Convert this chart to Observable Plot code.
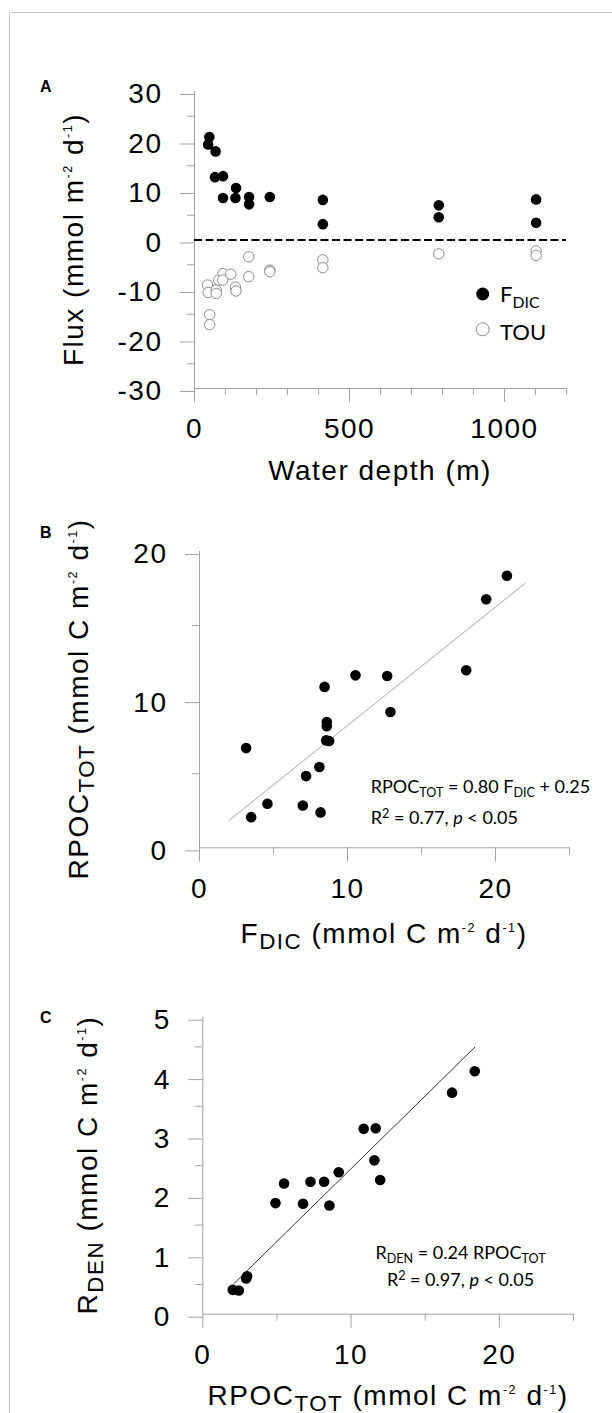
<!DOCTYPE html>
<html>
<head>
<meta charset="utf-8">
<script src="https://cdn.jsdelivr.net/npm/d3@7"></script>
<script src="https://cdn.jsdelivr.net/npm/@observablehq/plot@0.6"></script>
<style>
  html, body { margin: 0; padding: 0; background: white; }
  #fig { position: relative; width: 612px; height: 1413px; overflow: hidden; background: white; }
  .panel { position: absolute; left: 0; }
  #border { position: absolute; left: 9px; top: 12px; width: 800px; height: 1600px;
            border-left: 1px solid #c8c8c8; border-top: 1px solid #c8c8c8; pointer-events: none; }
  text { white-space: pre; }
</style>
</head>
<body>
<div id="fig"><div id="border"></div></div>
<script>
// ---------- DATA ----------
// Panel A: fluxes vs water depth
const depthDIC = [48, 44, 68, 66, 92, 92, 134, 132, 176, 176, 243, 414, 414, 788, 788, 1102, 1102];
const fluxDIC  = [20.8, 19.3, 17.9, 12.7, 12.9, 8.5, 10.5, 8.5, 8.7, 7.2, 8.7, 8.1, 3.2, 7.0, 4.6, 8.2, 3.5];
const depthTOU = [175, 42, 44, 70, 70, 78, 92, 91, 117, 132, 134, 175, 243, 243, 414, 414, 788, 1102, 1102, 49, 49];
const fluxTOU  = [-3.4, -9.1, -10.6, -10.1, -10.8, -8.1, -6.8, -8.1, -6.9, -9.5, -10.3, -7.4, -6.1, -6.4, -4.0, -5.6, -2.8, -2.2, -3.1, -15.1, -17.1];

// Panel B: RPOC_TOT vs F_DIC
const fdicB = [20.77, 19.37, 18.02, 10.54, 12.68, 8.45, 12.9, 8.6, 8.6, 8.56, 8.76, 3.15, 8.1, 7.2, 4.59, 6.98, 8.18, 3.49];
const rpocB = [18.36, 16.78, 11.98, 11.64, 11.60, 10.86, 9.17, 8.49, 8.2, 7.25, 7.21, 6.73, 5.45, 4.84, 2.97, 2.86, 2.39, 2.07];
const fitB_slope = 0.80, fitB_intercept = 0.25, fitB_xRange = [2.0, 22.0];

// Panel C: R_DEN vs RPOC_TOT
const rpocC = [18.34, 16.81, 10.85, 11.66, 11.57, 11.96, 9.17, 8.18, 7.26, 5.48, 4.9, 6.76, 8.54, 2.99, 2.92, 2.02, 2.43];
const rdenC = [4.09, 3.73, 3.12, 3.13, 2.59, 2.26, 2.39, 2.23, 2.23, 2.20, 1.87, 1.86, 1.83, 0.64, 0.60, 0.41, 0.40];
const fitC_slope = 0.245, fitC_intercept = 0, fitC_xRange = [2.09, 18.34];

// Ticks
const ticksA_xMajor = [0, 500, 1000];
const ticksA_xMinor = [100, 200, 300, 400, 600, 700, 800, 900, 1100, 1200];
const ticksA_yMajor = [-30, -20, -10, 0, 10, 20, 30];
const ticksA_yMinor = [-25, -15, -5, 5, 15, 25];
const ticksB_xMajor = [0, 10, 20];
const ticksB_xMinor = [5, 15, 25];
const ticksB_yMajor = [0, 10, 20];
const ticksB_yMinor = [5, 15];
const ticksC_xMajor = [0, 10, 20];
const ticksC_xMinor = [5, 15, 25];
const ticksC_yMajor = [0, 1, 2, 3, 4, 5];
const ticksC_yMinor = [0.5, 1.5, 2.5, 3.5, 4.5];

// ---------- STYLE ----------
const FONT = "Liberation Sans, Arial, sans-serif";
const ANN = "Lato, Open Sans, sans-serif";
const AX = "#a3a3a3";
const fmt = d => String(d);

function panel(o) {
  return Plot.plot({
    width: 612, height: o.height,
    marginTop: o.mt, marginBottom: o.mb, marginLeft: o.ml, marginRight: o.mr,
    x: {domain: o.xDomain}, y: {domain: o.yDomain},
    style: {fontFamily: FONT, fontSize: "28px", background: "transparent", color: "black", overflow: "visible", letterSpacing: "1.5px"},
    marks: [
      Plot.ruleX([o.xDomain[0]], {stroke: AX}),
      Plot.ruleY([o.yDomain[0]], {stroke: AX}),
      Plot.axisX({ticks: o.xMinor, tickSize: 7, tickFormat: () => "", stroke: AX, label: null}),
      Plot.axisX({ticks: o.xMajor, tickSize: 14, tickPadding: 16, tickFormat: fmt, stroke: AX, fill: "black", label: null, fontSize: 28, fontFamily: FONT}),
      Plot.axisY({ticks: o.yMinor, tickSize: 7, tickFormat: () => "", stroke: AX, label: null}),
      Plot.axisY({ticks: o.yMajor, tickSize: 14, tickPadding: 18, tickFormat: fmt, stroke: AX, fill: "black", label: null, fontSize: 28, fontFamily: FONT, dy: 3}),
      ...o.marks
    ]
  });
}

function rich(svg, {x, y, anchor = "start", size, family = FONT, weight = "normal", rotate = false, parts, ls = "0px", subScale = 0.8, subShift = 0.22, supScale = 0.45, supShift = 0.38}) {
  const t = d3.select(svg).append("text")
    .attr("text-anchor", anchor).attr("font-size", size)
    .style("font-family", family)
    .attr("font-weight", weight).attr("fill", "black").style("letter-spacing", ls)
    .attr("transform", rotate ? `translate(${x},${y}) rotate(-90)` : `translate(${x},${y})`);
  let cur = 0;
  for (const p of parts) {
    const [s, kind] = typeof p === "string" ? [p, ""] : p;
    let shift = 0, fs = size;
    if (kind === "sub") { shift = size * subShift; fs = size * subScale; }
    else if (kind === "sup") { shift = -size * supShift; fs = size * supScale; }
    const ts = t.append("tspan").text(s).attr("dy", shift - cur).attr("font-size", fs);
    if (kind === "it") ts.attr("font-style", "italic");
    cur = shift;
  }
  return t;
}

const fig = document.getElementById("fig");
function place(svg, top) {
  const d = document.createElement("div");
  d.className = "panel"; d.style.top = top + "px";
  d.appendChild(svg);
  fig.insertBefore(d, document.getElementById("border"));
}

// ---------- PANEL A ----------
const dataDIC = depthDIC.map((d, i) => ({depth: d, flux: fluxDIC[i]}));
const dataTOU = depthTOU.map((d, i) => ({depth: d, flux: fluxTOU[i]}));
const A = panel({
  height: 495, mt: 91, mb: 107, ml: 194, mr: 46,
  xDomain: [0, 1200], yDomain: [-30, 30],
  xMajor: ticksA_xMajor, xMinor: ticksA_xMinor, yMajor: ticksA_yMajor, yMinor: ticksA_yMinor,
  marks: [
    Plot.ruleY([0], {stroke: "black", strokeWidth: 2, strokeDasharray: "8,3.5"}),
    Plot.dot(dataTOU, {x: "depth", y: "flux", r: 5.2, fill: "white", stroke: "#8a8a8a", strokeWidth: 1}),
    Plot.dot(dataDIC, {x: "depth", y: "flux", r: 5.3, fill: "black"})
  ]
});
rich(A, {x: 40, y: 92, size: 16, weight: "bold", parts: ["A"]});
rich(A, {x: 83, y: 239.5, anchor: "middle", size: 28, rotate: true, ls: "1.5px",
  parts: ["Flux (mmol m", ["-2", "sup"], " d", ["-1", "sup"], ")"]});
rich(A, {x: 380, y: 480, anchor: "middle", size: 28, ls: "1.5px", parts: ["Water depth (m)"]});
// legend
d3.select(A).append("circle").attr("cx", 482.7).attr("cy", 294).attr("r", 6.5).attr("fill", "black");
d3.select(A).append("circle").attr("cx", 482.7).attr("cy", 329.3).attr("r", 6.5).attr("fill", "white").attr("stroke", "#8a8a8a");
rich(A, {x: 500, y: 302, size: 22, family: ANN, parts: ["F", ["DIC", "sub"]], subScale: 0.72, subShift: 0.25});
rich(A, {x: 500, y: 340, size: 22, family: ANN, parts: ["TOU"]});
place(A, 0);

// ---------- PANEL B ----------
const dataB = fdicB.map((d, i) => ({fdic: d, rpoc: rpocB[i]}));
const lineB = fitB_xRange.map(x => ({x, y: fitB_slope * x + fitB_intercept}));
const B = panel({
  height: 460, mt: 56, mb: 107.7, ml: 199, mr: 43,
  xDomain: [0, 25], yDomain: [0, 20],
  xMajor: ticksB_xMajor, xMinor: ticksB_xMinor, yMajor: ticksB_yMajor, yMinor: ticksB_yMinor,
  marks: [
    Plot.line(lineB, {x: "x", y: "y", stroke: "#a8a8a8", strokeWidth: 1}),
    Plot.dot(dataB, {x: "fdic", y: "rpoc", r: 5.3, fill: "black"})
  ]
});
rich(B, {x: 40, y: 43.3, size: 16, weight: "bold", parts: ["B"]});
rich(B, {x: 88, y: 204, anchor: "middle", size: 28, rotate: true, ls: "1.5px",
  parts: ["RPOC", ["TOT", "sub"], " (mmol C m", ["-2", "sup"], " d", ["-1", "sup"], ")"]});
rich(B, {x: 384, y: 448, anchor: "middle", size: 28, ls: "1.5px",
  parts: ["F", ["DIC", "sub"], " (mmol C m", ["-2", "sup"], " d", ["-1", "sup"], ")"]});
rich(B, {x: 370.7, y: 298, size: 18, family: ANN, subScale: 0.7, subShift: 0.2, supScale: 0.7, supShift: 0.35,
  parts: ["RPOC", ["TOT", "sub"], " = 0.80 F", ["DIC", "sub"], " + 0.25"]});
rich(B, {x: 370.7, y: 329, size: 18, family: ANN, subScale: 0.7, subShift: 0.2, supScale: 0.7, supShift: 0.35,
  parts: ["R", ["2", "sup"], " = 0.77, ", ["p", "it"], " < 0.05"]});
place(B, 495);

// ---------- PANEL C ----------
const dataC = rpocC.map((d, i) => ({rpoc: d, rden: rdenC[i]}));
const lineC = fitC_xRange.map(x => ({x, y: fitC_slope * x + fitC_intercept}));
const C = panel({
  height: 458, mt: 61.7, mb: 99.3, ml: 202.3, mr: 39,
  xDomain: [0, 25], yDomain: [0, 5],
  xMajor: ticksC_xMajor, xMinor: ticksC_xMinor, yMajor: ticksC_yMajor, yMinor: ticksC_yMinor,
  marks: [
    Plot.line(lineC, {x: "x", y: "y", stroke: "#333", strokeWidth: 1}),
    Plot.dot(dataC, {x: "rpoc", y: "rden", r: 5.3, fill: "black"})
  ]
});
rich(C, {x: 40, y: 68.3, size: 16, weight: "bold", parts: ["C"]});
rich(C, {x: 97, y: 210, anchor: "middle", size: 28, rotate: true, ls: "1.5px",
  parts: ["R", ["DEN", "sub"], " (mmol C m", ["-2", "sup"], " d", ["-1", "sup"], ")"]});
rich(C, {x: 388, y: 450, anchor: "middle", size: 28, ls: "1.5px",
  parts: ["RPOC", ["TOT", "sub"], " (mmol C m", ["-2", "sup"], " d", ["-1", "sup"], ")"]});
rich(C, {x: 460.5, y: 304, anchor: "middle", size: 18, family: ANN, subScale: 0.7, subShift: 0.2, supScale: 0.7, supShift: 0.35,
  parts: ["R", ["DEN", "sub"], " = 0.24 RPOC", ["TOT", "sub"]]});
rich(C, {x: 460.5, y: 331, anchor: "middle", size: 18, family: ANN, subScale: 0.7, subShift: 0.2, supScale: 0.7, supShift: 0.35,
  parts: ["R", ["2", "sup"], " = 0.97, ", ["p", "it"], " < 0.05"]});
place(C, 955);
</script>
</body>
</html>
